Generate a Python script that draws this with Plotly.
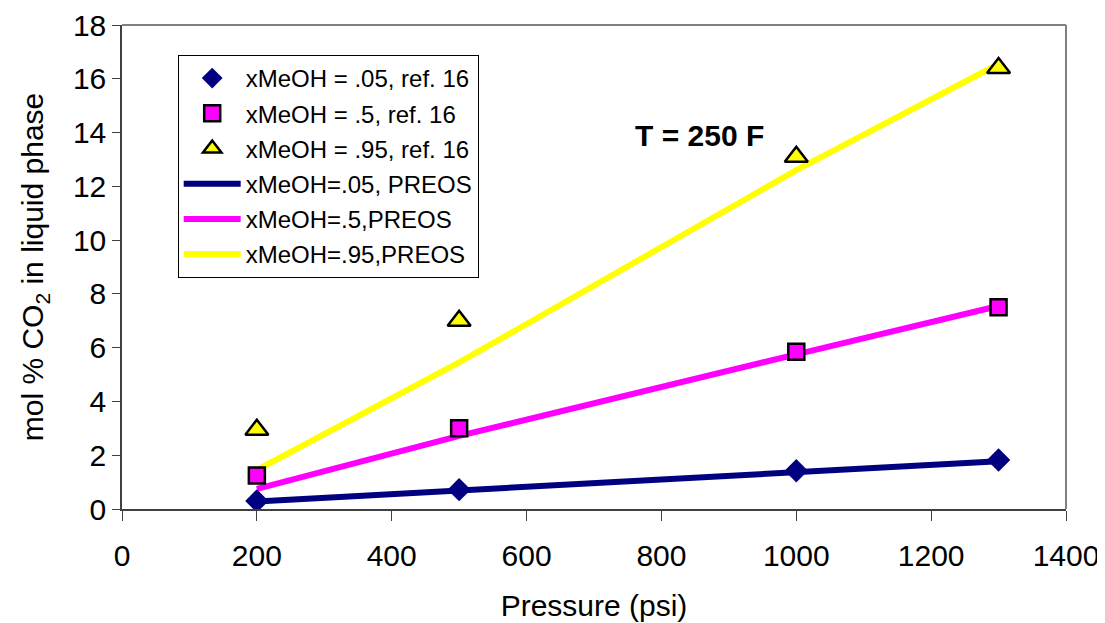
import plotly.graph_objects as go

pressure = [200, 500, 1000, 1300]
ref_05 = [0.3, 0.72, 1.42, 1.82]
ref_5 = [1.25, 3.0, 5.85, 7.5]
ref_95 = [2.95, 7.0, 13.1, 16.4]
preos_05 = [0.28, 0.7, 1.38, 1.78]
preos_5 = [0.75, 2.72, 5.75, 7.55]
preos_95 = [1.45, 5.45, 12.6, 16.55]

NAVY = "#000080"
PINK = "#FF00FF"
YELLOW = "#FFFF00"
FONT = "Liberation Sans, Arial, sans-serif"

fig = go.Figure()

lines = [
    ("xMeOH=.05, PREOS", preos_05, NAVY, 4),
    ("xMeOH=.5,PREOS", preos_5, PINK, 5),
    ("xMeOH=.95,PREOS", preos_95, YELLOW, 6),
]
for name, vals, col, rank in lines:
    fig.add_trace(go.Scatter(x=pressure, y=vals, mode="lines", name=name,
                             line=dict(color=col, width=6),
                             legendgroup=name, legendrank=rank))

marks = [
    ("xMeOH = .05, ref. 16", ref_05, NAVY, "diamond", 18, 0, NAVY, 1),
    ("xMeOH = .5, ref. 16", ref_5, PINK, "square", 16, 2.5, "black", 2),
    ("xMeOH = .95, ref. 16", ref_95, YELLOW, "triangle-up", 20, 2.5, "black", 3),
]
for name, vals, col, sym, size, lw, lc, rank in marks:
    fig.add_trace(go.Scatter(x=pressure, y=vals, mode="markers", name=name,
                             marker=dict(color=col, symbol=sym, size=size,
                                         line=dict(color=lc, width=lw)),
                             legendgroup=name, legendrank=rank))

fig.add_annotation(x=857, y=13.9, xref="x", yref="y", text="<b>T = 250 F</b>",
                   showarrow=False, font=dict(family=FONT, size=30, color="black"))

fig.add_shape(type="line", xref="paper", yref="paper", x0=0, x1=1, y0=1, y1=1,
              line=dict(color="#808080", width=2))
fig.add_shape(type="line", xref="paper", yref="paper", x0=1, x1=1, y0=0, y1=1,
              line=dict(color="#808080", width=2))

fig.update_layout(
    width=1105, height=623,
    margin=dict(l=114, r=47, t=17, b=122),
    paper_bgcolor="white", plot_bgcolor="white",
    font=dict(family=FONT, color="black"),
    showlegend=True,
    legend=dict(x=0.059, y=0.938, xanchor="left", yanchor="top",
                bgcolor="white", bordercolor="black", borderwidth=1,
                font=dict(family=FONT, size=24, color="black"),
                tracegroupgap=1, itemwidth=57),
    xaxis=dict(range=[0, 1400], tickvals=[0, 200, 400, 600, 800, 1000, 1200, 1400],
               automargin=False,
               showgrid=False, zeroline=False, showline=True, linecolor="#404040",
               linewidth=1.5, ticks="outside", ticklen=10, tickcolor="#404040",
               ticklabelstandoff=9,
               tickfont=dict(family=FONT, size=30),
               title=dict(text="Pressure (psi)", font=dict(family=FONT, size=30), standoff=24)),
    yaxis=dict(range=[0, 18], tickvals=list(range(0, 19, 2)),
               automargin=False,
               showgrid=False, zeroline=False, showline=True, linecolor="#404040",
               linewidth=1.5, ticks="outside", ticklen=8, tickcolor="#404040",
               tickfont=dict(family=FONT, size=30),
               title=dict(text="mol % CO<sub>2</sub> in liquid phase",
                          font=dict(family=FONT, size=30), standoff=20)),
)

fig.write_html("out.html")
